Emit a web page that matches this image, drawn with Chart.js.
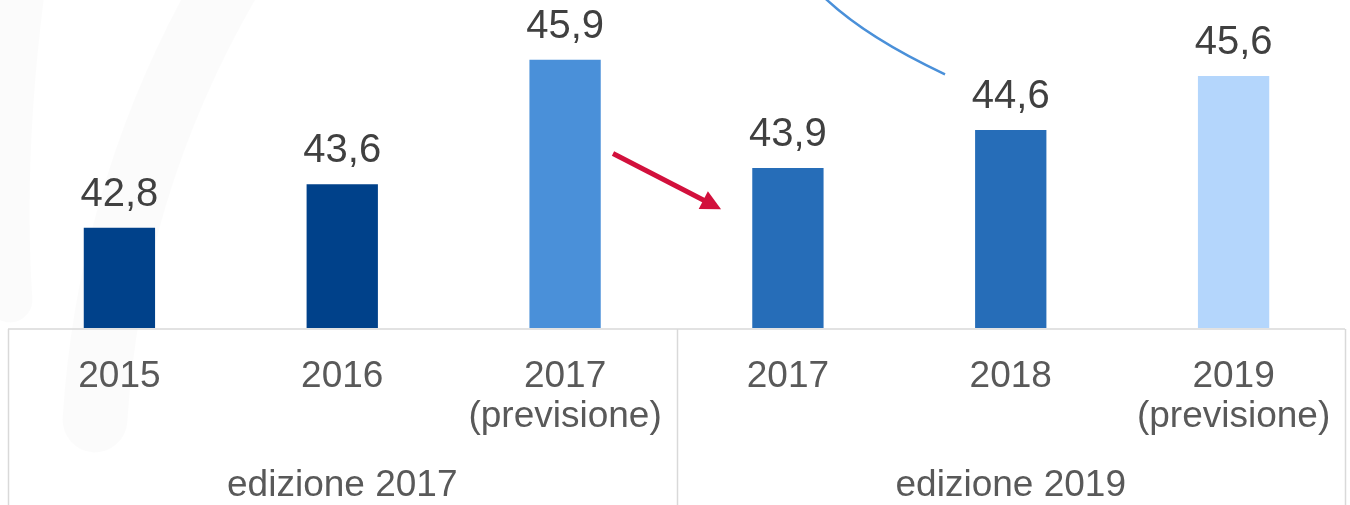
<!DOCTYPE html>
<html lang="it">
<head>
    <meta charset="UTF-8">
    <title>Previsioni per edizione</title>
    <script src="https://cdn.jsdelivr.net/npm/chart.js@4.4.1/dist/chart.umd.min.js"></script>
    <style>
        html, body { margin: 0; padding: 0; background: #fff; }
        #wrap { width: 1350px; height: 505px; }
    </style>
</head>
<body>
    <div id="wrap"><canvas id="grafico"></canvas></div>

    <script>
        // dati
        const anni = [['2015'], ['2016'], ['2017', '(previsione)'], ['2017'], ['2018'], ['2019', '(previsione)']];
        const valori = [42.8, 43.6, 45.9, 43.9, 44.6, 45.6];
        const colori = ['#00418a', '#00418a', '#4a90d9', '#266db8', '#266db8', '#b4d6fc'];
        const edizioni = ['edizione 2017', 'edizione 2019'];
        const barrePerEdizione = [3, 3];

        const fontFam = '"Liberation Sans", Arial, sans-serif';

        // filigrana grigia, frecce e tabella delle etichette
        const decorazioni = {
            id: 'decorazioni',
            beforeDraw(chart) {
                const ctx = chart.ctx;
                ctx.save();
                ctx.lineCap = 'round';
                ctx.strokeStyle = 'rgba(0,0,0,0.016)';
                ctx.lineWidth = 65;
                ctx.beginPath();
                ctx.moveTo(235, -30);
                ctx.quadraticCurveTo(110, 180, 95, 420);
                ctx.stroke();
                ctx.lineWidth = 45;
                ctx.beginPath();
                ctx.moveTo(25, -30);
                ctx.quadraticCurveTo(0, 150, 10, 300);
                ctx.stroke();
                ctx.restore();
            },
            afterDatasetsDraw(chart) {
                const ctx = chart.ctx;
                const x = chart.scales.x, y = chart.scales.y;
                const area = chart.chartArea;
                const H = chart.height;
                ctx.save();

                // valori sopra le barre
                const meta = chart.getDatasetMeta(0);
                ctx.fillStyle = '#404040';
                ctx.font = '40px ' + fontFam;
                ctx.textAlign = 'center';
                ctx.textBaseline = 'alphabetic';
                meta.data.forEach((bar, i) => {
                    ctx.fillText(valori[i].toFixed(1).replace('.', ','), bar.x, bar.y - 22);
                });

                // tabella sotto l'asse
                ctx.strokeStyle = '#d9d9d9';
                ctx.lineWidth = 1.5;
                ctx.beginPath();
                ctx.moveTo(area.left, area.bottom + 1);
                ctx.lineTo(area.right, area.bottom + 1);
                let start = 0;
                const bordi = [start];
                barrePerEdizione.forEach(n => { start += n; bordi.push(start); });
                bordi.forEach(b => {
                    const px = Math.round(x.getPixelForValue(b - 0.5)) + 0.5;
                    ctx.moveTo(px, area.bottom + 1);
                    ctx.lineTo(px, H);
                });
                ctx.stroke();

                ctx.fillStyle = '#595959';
                ctx.font = '37px ' + fontFam;
                anni.forEach((righe, i) => {
                    const px = x.getPixelForValue(i);
                    righe.forEach((t, r) => ctx.fillText(t, px, area.bottom + 59 + r * 40));
                });
                edizioni.forEach((t, g) => {
                    const mid = (bordi[g] + bordi[g + 1]) / 2 - 0.5;
                    ctx.fillText(t, x.getPixelForValue(mid), area.bottom + 168);
                });

                // freccia rossa
                const x0 = x.getPixelForValue(2.215), y0 = y.getPixelForValue(44.17);
                const x1 = x.getPixelForValue(2.70), y1 = y.getPixelForValue(43.14);
                const ang = Math.atan2(y1 - y0, x1 - x0);
                ctx.strokeStyle = '#d2103c';
                ctx.fillStyle = '#d2103c';
                ctx.lineWidth = 5;
                ctx.lineCap = 'butt';
                ctx.beginPath();
                ctx.moveTo(x0, y0);
                ctx.lineTo(x1 - 14 * Math.cos(ang), y1 - 14 * Math.sin(ang));
                ctx.stroke();
                ctx.beginPath();
                ctx.moveTo(x1, y1);
                ctx.lineTo(x1 - 20 * Math.cos(ang) + 10 * Math.sin(ang), y1 - 20 * Math.sin(ang) - 10 * Math.cos(ang));
                ctx.lineTo(x1 - 20 * Math.cos(ang) - 10 * Math.sin(ang), y1 - 20 * Math.sin(ang) + 10 * Math.cos(ang));
                ctx.closePath();
                ctx.fill();

                // curva blu in alto
                ctx.strokeStyle = '#4a90d9';
                ctx.lineWidth = 2.5;
                ctx.beginPath();
                ctx.moveTo(x.getPixelForValue(3.17), y.getPixelForValue(47.02));
                ctx.quadraticCurveTo(x.getPixelForValue(3.357), y.getPixelForValue(46.3),
                    x.getPixelForValue(3.705), y.getPixelForValue(45.63));
                ctx.stroke();

                ctx.restore();
            }
        };

        new Chart(document.getElementById('grafico'), {
            type: 'bar',
            data: {
                labels: anni,
                datasets: [{
                    data: valori,
                    backgroundColor: colori,
                    categoryPercentage: 1,
                    barPercentage: 0.32
                }]
            },
            options: {
                responsive: true,
                maintainAspectRatio: false,
                animation: false,
                layout: { padding: { left: 8, right: 5, top: 0, bottom: 177 } },
                scales: {
                    x: { display: false },
                    y: { display: false, min: 40.95, max: 47 }
                },
                plugins: {
                    legend: { display: false },
                    tooltip: { enabled: false }
                }
            },
            plugins: [decorazioni]
        });
    </script>
</body>
</html>
